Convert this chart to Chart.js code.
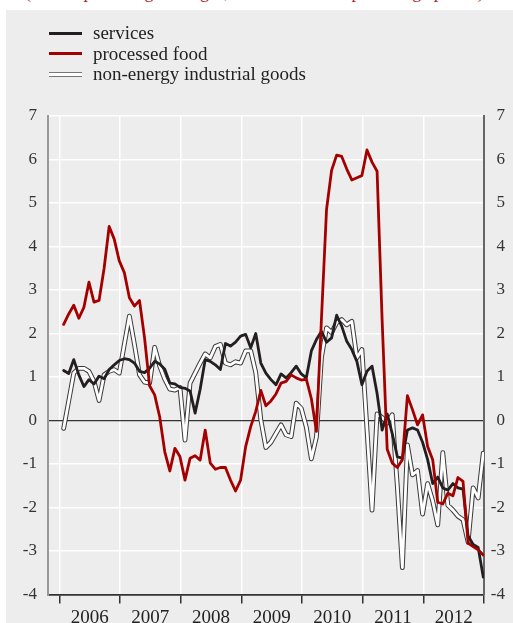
<!DOCTYPE html>
<html>
<head>
<meta charset="utf-8">
<script src="https://cdn.jsdelivr.net/npm/chart.js@4.4.1/dist/chart.umd.min.js"></script>
<style>
  html, body { margin: 0; padding: 0; background: #ffffff; }
  body { width: 513px; height: 623px; position: relative; overflow: hidden; font-family: "Liberation Serif", "DejaVu Serif", serif; }
  #note { position: absolute; left: 25px; top: -17px; font-size: 18px; line-height: 18px; color: #a8262b; white-space: nowrap; }
  #panel { position: absolute; left: 6px; top: 10px; width: 507px; height: 613px; background: #ededed; }
  #chartBox { position: absolute; left: 0; top: 0; width: 507px; height: 613px; }
  #legend { position: absolute; left: 43px; top: 13px; font-size: 19px; color: #222; z-index: 2; }
  .row { height: 20.5px; line-height: 20.5px; display: flex; align-items: center; }
  .swatch { width: 33px; margin-right: 11px; box-sizing: border-box; }
  .sw-services { height: 3px; background: #231f20; }
  .sw-food { height: 3px; background: #a50000; }
  .sw-goods { height: 5px; background: #ffffff; border-top: 1px solid #777; border-bottom: 1px solid #777; }
</style>
</head>
<body>
<div id="note">(annual percentage changes; contributions in percentage points)</div>
<div id="panel">
  <div id="legend">
    <div class="row"><span class="swatch sw-services"></span>services</div>
    <div class="row"><span class="swatch sw-food"></span>processed food</div>
    <div class="row"><span class="swatch sw-goods"></span>non-energy industrial goods</div>
  </div>
  <div id="chartBox"><canvas id="chart"></canvas></div>
</div>
<script>
// monthly data, Jan 2006 - Dec 2012
const years = ["2006", "2007", "2008", "2009", "2010", "2011", "2012"];

const services = [
  1.15, 1.08, 1.40, 1.05, 0.78, 0.94, 0.84, 1.02, 0.96, 1.17, 1.28, 1.38,
  1.42, 1.40, 1.32, 1.13, 1.10, 1.20, 1.36, 1.30, 1.18, 0.86, 0.84, 0.76,
  0.74, 0.68, 0.17, 0.72, 1.40, 1.36, 1.28, 1.17, 1.77, 1.71, 1.80, 1.94,
  1.98, 1.67, 2.00, 1.32, 1.09, 0.94, 0.82, 1.07, 0.98, 1.10, 1.25, 1.07,
  0.98, 1.60, 1.86, 2.05, 1.80, 1.90, 2.42, 2.17, 1.82, 1.63, 1.36, 0.82,
  1.13, 1.25, 0.62, -0.22, 0.15, -0.30, -0.83, -0.87, -0.22, -0.17, -0.22, -0.50,
  -0.90, -1.45, -1.30, -1.55, -1.60, -1.45, -1.55, -1.58, -2.65, -2.85, -2.92, -3.60
];

const processedFood = [
  2.21, 2.45, 2.65, 2.35, 2.60, 3.18, 2.72, 2.76, 3.50, 4.46, 4.17, 3.67,
  3.40, 2.82, 2.63, 2.76, 1.90, 0.80, 0.59, 0.08, -0.72, -1.16, -0.64, -0.83,
  -1.37, -0.87, -0.81, -0.91, -0.22, -0.98, -1.12, -1.08, -1.08, -1.37, -1.62, -1.37,
  -0.60, -0.14, 0.21, 0.69, 0.34, 0.45, 0.61, 0.86, 0.90, 1.05, 0.98, 0.93,
  0.95, 0.50, -0.25, 2.35, 4.85, 5.75, 6.10, 6.07, 5.78, 5.53, 5.58, 5.63,
  6.22, 5.94, 5.73, 2.30, -0.66, -0.98, -1.08, -0.90, 0.57, 0.25, -0.10, 0.13,
  -0.60, -0.90, -1.88, -1.92, -1.67, -1.73, -1.31, -1.40, -2.82, -2.90, -2.97, -3.09
];

const nonEnergyGoods = [
  -0.18, 0.45, 1.09, 1.20, 1.20, 1.13, 0.90, 0.46, 1.05, 1.13, 1.17, 1.09,
  1.75, 2.40, 1.75, 1.05, 0.88, 0.86, 1.68, 1.25, 0.95, 0.72, 0.70, 0.76,
  -0.45, 0.86, 1.09, 1.32, 1.53, 1.44, 1.70, 1.75, 1.32, 1.28, 1.35, 1.32,
  1.60, 1.60, 1.10, 0.02, -0.62, -0.50, -0.30, -0.10, -0.33, -0.37, 0.40, 0.28,
  -0.15, -0.88, -0.38, 1.45, 2.13, 2.02, 2.25, 2.32, 2.20, 2.28, 1.44, 1.63,
  -0.20, -2.06, 0.15, 0.07, -0.06, 0.13, -1.50, -3.38, -0.56, -1.25, -1.15, -2.15,
  -1.45, -1.85, -2.40, -0.74, -1.95, -2.06, -2.20, -2.28, -2.80, -1.55, -1.78, -0.75
];

const yTicks = [-4, -3, -2, -1, 0, 1, 2, 3, 4, 5, 6, 7];

// x is months since Jan 2006
const toPoints = arr => arr.map((v, i) => ({ x: i + 0.85, y: v }));
const yearStarts = years.map((y, i) => i * 12).concat([years.length * 12]);
const yearMids = years.map((y, i) => i * 12 + 6);
const xMin = -2.25;
const xMax = years.length * 12;

Chart.defaults.font.family = '"Liberation Serif", "DejaVu Serif", serif';

const lineBase = {
  pointRadius: 0,
  tension: 0,
  fill: false,
  borderJoinStyle: "round",
  borderCapStyle: "round",
};

new Chart(document.getElementById("chart"), {
  type: "line",
  data: {
    datasets: [
      { ...lineBase, label: "processed food", data: toPoints(processedFood), borderColor: "#a50000", borderWidth: 2.8 },
      { ...lineBase, label: "services", data: toPoints(services), borderColor: "#231f20", borderWidth: 2.8 },
      { ...lineBase, label: "non-energy industrial goods", data: toPoints(nonEnergyGoods), borderColor: "#ffffff", borderWidth: 2.8 },
      { ...lineBase, label: "non-energy industrial goods edge", data: toPoints(nonEnergyGoods), borderColor: "#3a3a3a", borderWidth: 4.8 },
    ]
  },
  options: {
    animation: false,
    responsive: true,
    maintainAspectRatio: false,
    layout: { padding: { left: 0, right: 8, top: 106, bottom: 0 } },
    plugins: {
      legend: { display: false },
      tooltip: { enabled: false },
    },
    scales: {
      x: {
        type: "linear",
        position: "bottom",
        min: xMin,
        max: xMax,
        afterBuildTicks: s => { s.ticks = yearStarts.map(v => ({ value: v })); },
        afterFit: s => { s.height = 9; },
        ticks: { display: false },
        grid: {
          z: -1,
          color: ctx => (ctx.tick && ctx.tick.value >= xMax) ? "rgba(0,0,0,0)" : "#ffffff",
          lineWidth: 1.5,
          drawTicks: true,
          tickLength: 9,
          tickColor: "#333333",
          tickWidth: 1.5,
        },
        border: { display: true, color: "#333333", width: 1.5 },
      },
      x2: {
        type: "linear",
        position: "bottom",
        min: xMin,
        max: xMax,
        afterBuildTicks: s => { s.ticks = yearMids.map(v => ({ value: v })); },
        afterFit: s => { s.height = 19.5; },
        ticks: {
          callback: (v, i) => years[i],
          autoSkip: false,
          maxRotation: 0,
          padding: 3,
          color: "#222222",
          font: { size: 19 },
        },
        grid: { display: false, drawTicks: false },
        border: { display: false },
      },
      y: {
        position: "left",
        min: yTicks[0],
        max: yTicks[yTicks.length - 1],
        afterBuildTicks: s => { s.ticks = yTicks.map(v => ({ value: v })); },
        afterFit: s => { s.width = 42; },
        ticks: { padding: 11, color: "#333333", font: { size: 17 } },
        grid: {
          z: -0.5,
          drawTicks: false,
          color: ctx => {
            const v = ctx.tick ? ctx.tick.value : null;
            return (v === 0 || v === yTicks[0]) ? "#333333" : "#ffffff";
          },
          lineWidth: ctx => (ctx.tick && ctx.tick.value === 0) ? 1.3 : 1.5,
        },
        border: { color: "#999999", width: 2 },
      },
      y2: {
        position: "right",
        min: yTicks[0],
        max: yTicks[yTicks.length - 1],
        afterBuildTicks: s => { s.ticks = yTicks.map(v => ({ value: v })); },
        afterFit: s => { s.width = 21; },
        ticks: { padding: 0, crossAlign: "far", color: "#333333", font: { size: 17 } },
        grid: { display: false, drawTicks: false },
        border: { color: "#666666", width: 2 },
      },
    },
  },
});
</script>
</body>
</html>
